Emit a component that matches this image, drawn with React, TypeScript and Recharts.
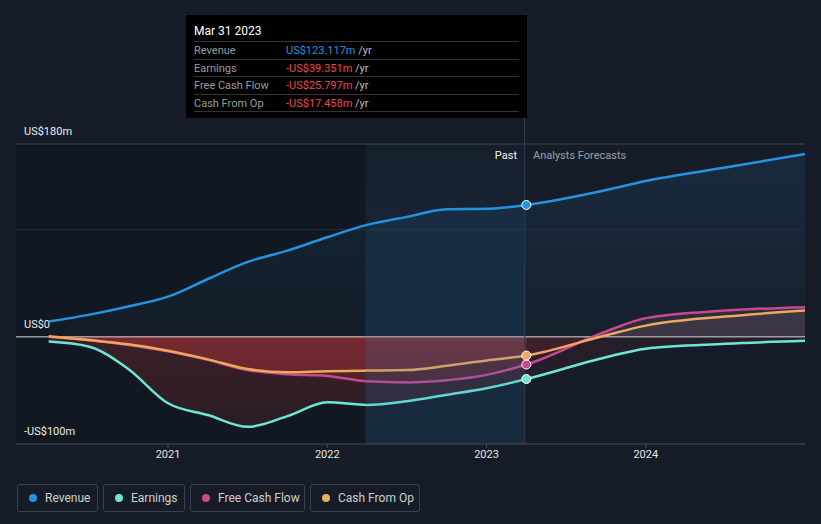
import React from 'react';
import {
  ComposedChart,
  Area,
  Line,
  XAxis,
  YAxis,
  ReferenceLine,
  ReferenceArea,
  ReferenceDot,
} from 'recharts';

// decimal years, quarterly history then analyst forecasts
const dates = [2020.25, 2020.5, 2020.75, 2021.0, 2021.25, 2021.5, 2021.75, 2022.0, 2022.25, 2022.5, 2022.75, 2023.0, 2023.25, 2023.75, 2024.0, 2024.5, 2025.0];
const revenue = [14.3, 20.5, 28.3, 37.5, 54, 70, 80.5, 93, 104.5, 112, 119, 119.5, 123.117, 137, 145.5, 158, 170.7];
const earnings = [-4.4, -9, -30, -62, -73, -84, -74, -61, -63.5, -60, -54, -48, -39.351, -19, -11, -6.5, -3.7];
const freeCashFlow = [0, -3, -7.5, -13.5, -21.5, -31, -35, -36.5, -41.5, -42.5, -40.5, -35.5, -25.797, 5, 17.5, 24.5, 27.7];
const cashFromOp = [0.5, -3, -7, -13, -21, -30, -33, -32, -31.5, -31, -27, -22, -17.458, 1.5, 10.5, 19, 24.5];

const xTicks = [2021, 2022, 2023, 2024];
const yLabels = [180, 0, -100];
const lastActual = 2023.25;
const highlightStart = 2022.24;

const COLORS = {
  revenue: '#2394df',
  earnings: '#6ee6d4',
  fcf: '#c9488f',
  cfo: '#eaa95c',
};

const legendItems = [
  { name: 'Revenue', color: COLORS.revenue, width: 81 },
  { name: 'Earnings', color: COLORS.earnings, width: 82 },
  { name: 'Free Cash Flow', color: COLORS.fcf, width: 115 },
  { name: 'Cash From Op', color: COLORS.cfo, width: 110 },
];

const tooltipRows = [
  { label: 'Revenue', value: 'US$123.117m', color: '#2394df' },
  { label: 'Earnings', value: '-US$39.351m', color: '#f04848' },
  { label: 'Free Cash Flow', value: '-US$25.797m', color: '#f04848' },
  { label: 'Cash From Op', value: '-US$17.458m', color: '#f04848' },
];

const past = (v: number, i: number) => (dates[i] <= lastActual ? v : null);
const future = (v: number, i: number) => (dates[i] >= lastActual ? v : null);

const data = dates.map((d, i) => ({
  date: d,
  revenue: revenue[i],
  earnings: earnings[i],
  fcf: freeCashFlow[i],
  cfo: cashFromOp[i],
  earningsPast: past(earnings[i], i),
  fcfPast: past(freeCashFlow[i], i),
  cfoPast: past(cashFromOp[i], i),
  earningsFc: future(earnings[i], i),
  fcfFc: future(freeCashFlow[i], i),
  cfoFc: future(cashFromOp[i], i),
}));

const fmtMoney = (v: number) => (v === 0 ? 'US$0' : v < 0 ? `-US$${Math.abs(v)}m` : `US$${v}m`);

const yLabel = (v: number) => (props: any) => {
  const vb = props.viewBox || {};
  return (
    <text x={24} y={vb.y - 12} fill="#ececec" fontSize={11} dominantBaseline="middle">
      {fmtMoney(v)}
    </text>
  );
};

export default function App() {
  const font = 'Roboto, "Noto Sans", sans-serif';
  const lastIdx = dates.indexOf(lastActual);
  return (
    <div style={{ position: 'absolute', left: 0, top: 0, width: 821, height: 524, background: '#161c27', fontFamily: font, overflow: 'hidden' }}>
      <ComposedChart width={821} height={524} data={data} margin={{ top: 144, right: 16, bottom: 50, left: 16 }} style={{ fontFamily: font }}>
        <defs>
          <linearGradient id="revFill" x1="0" y1="0" x2="0" y2="1">
            <stop offset="0%" stopColor="#2394df" stopOpacity={0.2} />
            <stop offset="100%" stopColor="#2394df" stopOpacity={0.05} />
          </linearGradient>
          <linearGradient id="pastNeg" gradientUnits="userSpaceOnUse" x1="0" y1="144" x2="0" y2="444">
            <stop offset="0%" stopColor="#cc383d" stopOpacity={0.36} />
            <stop offset="64.3%" stopColor="#cc383d" stopOpacity={0.38} />
            <stop offset="100%" stopColor="#cc383d" stopOpacity={0.18} />
          </linearGradient>
          <linearGradient id="fcFill" gradientUnits="userSpaceOnUse" x1="0" y1="144" x2="0" y2="444">
            <stop offset="0%" stopColor="#9a6e80" stopOpacity={0.25} />
            <stop offset="64.3%" stopColor="#9a6e80" stopOpacity={0.25} />
            <stop offset="64.3%" stopColor="#8c2832" stopOpacity={0.22} />
            <stop offset="100%" stopColor="#8c2832" stopOpacity={0.1} />
          </linearGradient>
          <linearGradient id="hiFill" gradientUnits="userSpaceOnUse" x1="0" y1="144" x2="0" y2="444">
            <stop offset="0%" stopColor="#1d7ac0" stopOpacity={0.06} />
            <stop offset="64%" stopColor="#1d7ac0" stopOpacity={0.3} />
            <stop offset="100%" stopColor="#1d7ac0" stopOpacity={0.3} />
          </linearGradient>
        </defs>

        <ReferenceArea x1={2020.045} x2={highlightStart} y1={-100} y2={180} fill="#000" fillOpacity={0.14} stroke="none" zIndex={-50} />

        <XAxis
          dataKey="date"
          type="number"
          domain={[2020.045, 2025.0]}
          ticks={xTicks}
          allowDataOverflow
          height={30}
          axisLine={{ stroke: '#474e5a' }}
          tickLine={{ stroke: '#474e5a' }}
          tickSize={4}
          tick={{ fill: '#e6e6e6', fontSize: 11 }}
          tickFormatter={(v: number) => String(v)}
        />
        <YAxis domain={[-100, 180]} hide allowDataOverflow />

        <ReferenceLine y={180} stroke="#3c434f" label={yLabel(yLabels[0])} />
        <ReferenceLine y={100} stroke="#272e39" />
        <ReferenceLine y={-100} stroke="none" label={yLabel(yLabels[2])} />

        <Area dataKey="revenue" type="monotone" baseValue={0} fill="url(#revFill)" stroke="none" isAnimationActive={false} />
        <Area dataKey="earningsPast" type="monotone" baseValue={0} fill="url(#pastNeg)" stroke="none" isAnimationActive={false} />
        <Area dataKey="fcfPast" type="monotone" baseValue={0} fill="url(#pastNeg)" stroke="none" isAnimationActive={false} />
        <Area dataKey="cfoPast" type="monotone" baseValue={0} fill="url(#pastNeg)" stroke="none" isAnimationActive={false} />
        <Area dataKey="earningsFc" type="monotone" baseValue={0} fill="url(#fcFill)" stroke="none" isAnimationActive={false} />
        <Area dataKey="fcfFc" type="monotone" baseValue={0} fill="url(#fcFill)" stroke="none" isAnimationActive={false} />
        <Area dataKey="cfoFc" type="monotone" baseValue={0} fill="url(#fcFill)" stroke="none" isAnimationActive={false} />

        <ReferenceLine y={0} stroke="#d8d8d8" strokeWidth={1} label={yLabel(yLabels[1])} />

        <Line dataKey="revenue" type="monotone" stroke={COLORS.revenue} strokeWidth={2.5} dot={false} activeDot={false} isAnimationActive={false} />
        <Line dataKey="earnings" type="monotone" stroke={COLORS.earnings} strokeWidth={2.5} dot={false} activeDot={false} isAnimationActive={false} />
        <Line dataKey="fcf" type="monotone" stroke={COLORS.fcf} strokeWidth={2.5} dot={false} activeDot={false} isAnimationActive={false} />
        <Line dataKey="cfo" type="monotone" stroke={COLORS.cfo} strokeWidth={2.5} dot={false} activeDot={false} isAnimationActive={false} />

        <ReferenceArea x1={highlightStart} x2={lastActual - 0.01} y1={-100} y2={180} fill="url(#hiFill)" stroke="none" zIndex={450} />
        <ReferenceLine x={lastActual - 0.01} stroke="#2a3c4f" strokeWidth={1} zIndex={450} />

        <ReferenceDot x={lastActual} y={revenue[lastIdx]} r={4.5} fill={COLORS.revenue} stroke="#fff" strokeWidth={1} zIndex={700} />
        <ReferenceDot x={lastActual} y={earnings[lastIdx]} r={4.5} fill={COLORS.earnings} stroke="#fff" strokeWidth={1} zIndex={700} />
        <ReferenceDot x={lastActual} y={freeCashFlow[lastIdx]} r={4.5} fill={COLORS.fcf} stroke="#fff" strokeWidth={1} zIndex={700} />
        <ReferenceDot x={lastActual} y={cashFromOp[lastIdx]} r={4.5} fill={COLORS.cfo} stroke="#fff" strokeWidth={1} zIndex={700} />
      </ComposedChart>

      {/* vertical marker above the plot, from the tooltip down */}
      <div style={{ position: 'absolute', left: 524, top: 118, width: 1, height: 26, background: '#2a3c4f' }} />

      <div style={{ position: 'absolute', left: 440, top: 149, width: 77, textAlign: 'right', color: '#f2f2f2', fontSize: 11 }}>Past</div>
      <div style={{ position: 'absolute', left: 533, top: 149, color: '#9aa0a8', fontSize: 11 }}>Analysts Forecasts</div>

      {/* static tooltip */}
      <div style={{ position: 'absolute', left: 186, top: 15, width: 341, height: 103, background: '#000' }}>
        <div style={{ position: 'absolute', left: 8, top: 9, color: '#fff', fontSize: 12 }}>Mar 31 2023</div>
        {tooltipRows.map((r, i) => (
          <div key={r.label} style={{ position: 'absolute', left: 8, top: 26 + i * 17.5, width: 325, height: 17.5, borderTop: '1px solid #333', fontSize: 11, lineHeight: '17px' }}>
            <span style={{ position: 'absolute', left: 0, color: '#9c9c9c' }}>{r.label}</span>
            <span style={{ position: 'absolute', left: 92, color: r.color }}>
              {r.value} <span style={{ color: '#bdbdbd' }}>/yr</span>
            </span>
          </div>
        ))}
        <div style={{ position: 'absolute', left: 8, top: 96, width: 325, borderTop: '1px solid #333' }} />
      </div>

      {/* legend */}
      <div style={{ position: 'absolute', left: 17, top: 484, display: 'flex', gap: 5 }}>
        {legendItems.map((it) => (
          <div key={it.name} style={{ position: 'relative', width: it.width - 2, height: 26, border: '1px solid #3b414c', borderRadius: 3, fontSize: 12, color: '#cfcfcf' }}>
            <span style={{ position: 'absolute', left: 11, top: 9, width: 8, height: 8, borderRadius: 4, background: it.color }} />
            <span style={{ position: 'absolute', left: 27, top: 5, lineHeight: '16px' }}>{it.name}</span>
          </div>
        ))}
      </div>
    </div>
  );
}
